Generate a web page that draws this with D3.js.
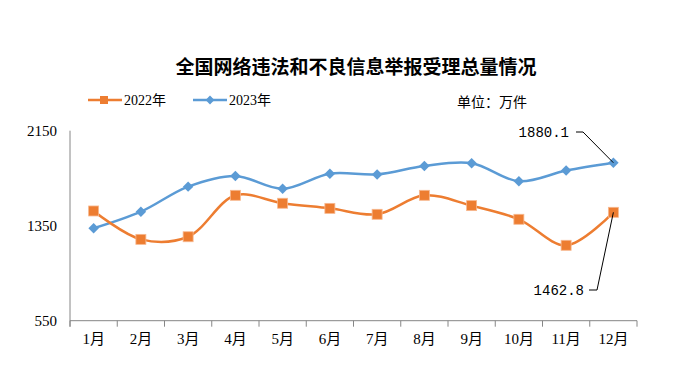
<!DOCTYPE html>
<html lang="zh">
<head>
<meta charset="UTF-8">
<title>全国网络违法和不良信息举报受理总量情况</title>
<script src="https://cdn.jsdelivr.net/npm/d3@7/dist/d3.min.js"></script>
<style>
    body { margin: 0; background: #fff; }
    text { fill: #000; }
</style>
</head>
<body>
<div id="chart"></div>
<script>
    const months = ["1月", "2月", "3月", "4月", "5月", "6月", "7月", "8月", "9月", "10月", "11月", "12月"];
    const values2022 = [1474, 1235, 1257, 1606, 1539, 1496, 1446, 1606, 1519, 1404, 1185, 1462.8];
    const values2023 = [1328, 1468, 1679, 1769, 1662, 1788, 1782, 1853, 1876, 1724, 1814, 1880.1];
    const yTicks = [550, 1350, 2150];
    const seriesNames = ["2022年", "2023年"];

    const W = 674, H = 371;
    const mLeft = 70, mRight = 637, mTop = 130.7, mBottom = 320.7;
    const orange = "#ED7D31", blue = "#5B9BD5", axisColor = "#868686";
    const cjk = "'Noto Sans CJK SC', sans-serif";
    const serif = "'Liberation Serif', 'Noto Sans CJK SC', serif";

    const svg = d3.select("#chart").append("svg")
        .attr("width", W)
        .attr("height", H);

    let x = d3.scaleBand().domain(months).range([mLeft, mRight]);
    let y = d3.scaleLinear().domain([550, 2150]).range([mBottom, mTop]);

    // title
    svg.append("text")
        .attr("x", 356).attr("y", 74)
        .attr("text-anchor", "middle")
        .style("font-family", cjk)
        .style("font-weight", "bold")
        .style("font-size", "19px")
        .text("全国网络违法和不良信息举报受理总量情况");

    // x axis
    const xAxis = svg.append("g")
        .attr("transform", "translate(0," + mBottom + ")")
        .call(d3.axisBottom(x).tickSize(0).tickPadding(13));
    xAxis.select(".domain").attr("stroke", axisColor).attr("d", "M" + mLeft + ",0H" + mRight);
    xAxis.selectAll("text")
        .style("font-family", serif).style("font-size", "15px").attr("fill", "#000");
    // band edge ticks
    xAxis.selectAll(".edge")
        .data(months.map(m => x(m)).concat([mRight]))
        .enter().append("line")
        .attr("x1", d => d).attr("x2", d => d)
        .attr("y1", 0).attr("y2", 6)
        .attr("stroke", axisColor);

    // y axis
    const yAxis = svg.append("g")
        .attr("transform", "translate(" + mLeft + ",0)")
        .call(d3.axisLeft(y).tickValues(yTicks).tickFormat(d3.format("d")).tickSize(0).tickPadding(13));
    yAxis.select(".domain").attr("stroke", axisColor).attr("d", "M0," + mTop + "V" + (mBottom + 6));
    yAxis.selectAll("text")
        .style("font-family", serif).style("font-size", "15px").attr("fill", "#000");

    const cx = d => x(d.m) + x.bandwidth() / 2;
    const line = d3.line()
        .x(cx)
        .y(d => y(d.v))
        .curve(d3.curveCatmullRom.alpha(0.5));

    const d22 = months.map((m, i) => ({ m: m, v: values2022[i] }));
    const d23 = months.map((m, i) => ({ m: m, v: values2023[i] }));

    svg.append("path").datum(d23)
        .attr("d", line).attr("fill", "none")
        .attr("stroke", blue).attr("stroke-width", 2.5);
    svg.append("path").datum(d22)
        .attr("d", line).attr("fill", "none")
        .attr("stroke", orange).attr("stroke-width", 2.5);

    const diamond = d3.symbol().type(d3.symbolDiamond2).size(70);
    svg.selectAll(".p23").data(d23).enter().append("path")
        .attr("transform", d => "translate(" + cx(d) + "," + y(d.v) + ")")
        .attr("d", diamond)
        .attr("fill", blue);

    svg.selectAll(".p22").data(d22).enter().append("rect")
        .attr("x", d => cx(d) - 5).attr("y", d => y(d.v) - 5)
        .attr("width", 10).attr("height", 10)
        .attr("fill", orange)
        .attr("stroke", "#f7b88f").attr("stroke-width", 0.8);

    // legend
    const legend = svg.append("g");
    [[88, orange, "sq"], [193, blue, "di"]].forEach((l, i) => {
        legend.append("line")
            .attr("x1", l[0]).attr("x2", l[0] + 34)
            .attr("y1", 100).attr("y2", 100)
            .attr("stroke", l[1]).attr("stroke-width", 2.5);
        if (l[2] === "sq") {
            legend.append("rect")
                .attr("x", l[0] + 12).attr("y", 96).attr("width", 8).attr("height", 8)
                .attr("fill", l[1]);
        } else {
            legend.append("path")
                .attr("transform", "translate(" + (l[0] + 17) + ",100)")
                .attr("d", d3.symbol().type(d3.symbolDiamond2).size(50))
                .attr("fill", l[1]);
        }
        legend.append("text")
            .attr("x", l[0] + 36).attr("y", 105)
            .style("font-family", serif).style("font-size", "14px")
            .text(seriesNames[i]);
    });

    svg.append("text")
        .attr("x", 457).attr("y", 107)
        .style("font-family", cjk).style("font-size", "14px")
        .text("单位：万件");

    // annotations for December values
    const last23 = d23[11], last22 = d22[11];
    svg.append("text")
        .attr("x", 569).attr("y", 137)
        .attr("text-anchor", "end")
        .style("font-family", "'Liberation Mono', monospace").style("font-size", "14px")
        .text(last23.v.toFixed(1));
    svg.append("path")
        .attr("d", "M576,132H583L" + cx(last23) + "," + y(last23.v))
        .attr("fill", "none").attr("stroke", "#000").attr("stroke-width", 1);

    svg.append("text")
        .attr("x", 584).attr("y", 295)
        .attr("text-anchor", "end")
        .style("font-family", "'Liberation Mono', monospace").style("font-size", "14px")
        .text(last22.v.toFixed(1));
    svg.append("path")
        .attr("d", "M589,290H597L" + cx(last22) + "," + y(last22.v))
        .attr("fill", "none").attr("stroke", "#000").attr("stroke-width", 1);
</script>
</body>
</html>
